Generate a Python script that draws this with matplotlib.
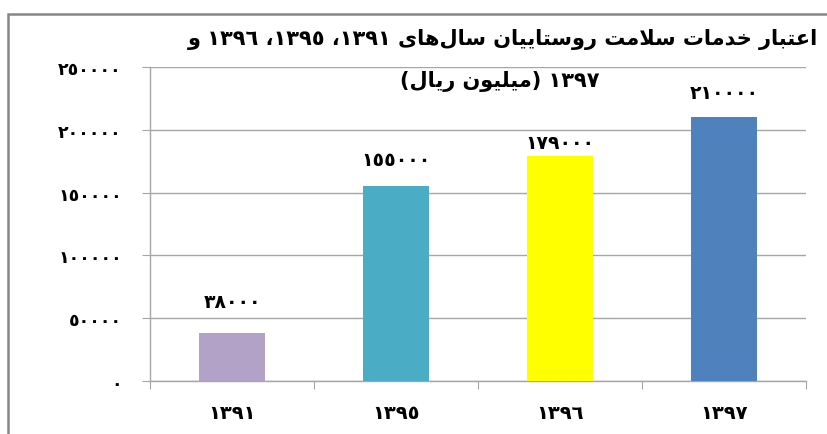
"""
Rural health services credit chart, 1391-1397 (million rials).
"""

import matplotlib

matplotlib.use("Agg")
import matplotlib.pyplot as plt
from matplotlib.patches import Rectangle

years = ["۱۳۹۱", "۱۳۹۵", "۱۳۹۶", "۱۳۹۷"]
values = [38000, 155000, 179000, 210000]
bar_colors = ["#B3A2C7", "#4BACC6", "#FFFF00", "#4F81BD"]
label_offsets = [23, 19, 10, 18]  # points above bar top, placed by hand in the source
y_ticks = [0, 50000, 100000, 150000, 200000, 250000]
title_line1 = "اعتبار خدمات سلامت روستاییان سال‌های ۱۳۹۱، ۱۳۹۵، ۱۳۹۶ و"
title_line2 = "۱۳۹۷ (میلیون ریال)"

# (isolated, final, initial, medial); right-joining letters have no initial/medial
FORMS = {
    "ا": ("\ufe8d", "\ufe8e", None, None),
    "ب": ("\ufe8f", "\ufe90", "\ufe91", "\ufe92"),
    "ت": ("\ufe95", "\ufe96", "\ufe97", "\ufe98"),
    "خ": ("\ufea5", "\ufea6", "\ufea7", "\ufea8"),
    "د": ("\ufea9", "\ufeaa", None, None),
    "ر": ("\ufead", "\ufeae", None, None),
    "س": ("\ufeb1", "\ufeb2", "\ufeb3", "\ufeb4"),
    "ع": ("\ufec9", "\ufeca", "\ufecb", "\ufecc"),
    "ل": ("\ufedd", "\ufede", "\ufedf", "\ufee0"),
    "م": ("\ufee1", "\ufee2", "\ufee3", "\ufee4"),
    "ن": ("\ufee5", "\ufee6", "\ufee7", "\ufee8"),
    "ه": ("\ufee9", "\ufeea", "\ufeeb", "\ufeec"),
    "و": ("\ufeed", "\ufeee", None, None),
    "ی": ("\ufeef", "\ufef0", "\ufef3", "\ufef4"),
    "ﻻ": ("\ufefb", "\ufefc", None, None),
}
PERSIAN_DIGITS = "۰۱۲۳۴۵۶۷۸۹"
ARABIC_DIGITS = "٠١٢٣٤٥٦٧٨٩"
MIRROR = {"(": ")", ")": "("}


def shape(text: str) -> str:
    """Poor man's Arabic shaping + bidi so matplotlib draws Persian left to right."""
    text = text.replace("لا", "ﻻ")
    text = "".join(ARABIC_DIGITS[PERSIAN_DIGITS.index(c)] if c in PERSIAN_DIGITS else c for c in text)
    out = []
    for i, ch in enumerate(text):
        if ch not in FORMS:
            if ch != "\u200c":
                out.append(ch)
            continue
        prev = text[i - 1] if i > 0 else ""
        nxt = text[i + 1] if i + 1 < len(text) else ""
        before = prev in FORMS and FORMS[prev][2] is not None
        after = FORMS[ch][2] is not None and nxt in FORMS
        iso, fin, ini, med = FORMS[ch]
        if before and after:
            out.append(med)
        elif before:
            out.append(fin)
        elif after:
            out.append(ini)
        else:
            out.append(iso)
    # visual order: reverse, but keep digit runs left to right
    tokens = []
    for ch in out:
        if ch in ARABIC_DIGITS and tokens and tokens[-1][-1] in ARABIC_DIGITS:
            tokens[-1] += ch
        else:
            tokens.append(ch)
    return "".join(MIRROR.get(t, t) for t in reversed(tokens))


def arabic_number(value: int) -> str:
    return "".join(ARABIC_DIGITS[int(d)] for d in str(value))


plt.rcParams["font.family"] = ["DejaVu Sans"]

fig = plt.figure(figsize=(8.28, 4.35), dpi=100)
fig.patches.append(
    Rectangle((8 / 828, -0.1), 1.2, (435 - 15) / 435 + 0.1, transform=fig.transFigure,
              fill=False, edgecolor="#868686", linewidth=1.8)
)
ax = fig.add_axes([150 / 828, 53 / 435, 656 / 828, 314 / 435])

positions = range(len(years))
bars = ax.bar(positions, values, width=0.4, color=bar_colors, zorder=3)
for bar, value, offset in zip(bars, values, label_offsets):
    ax.annotate(
        arabic_number(value),
        (bar.get_x() + bar.get_width() / 2, bar.get_height()),
        xytext=(0, offset),
        textcoords="offset points",
        ha="center",
        va="center",
        fontsize=13.5,
        fontweight="bold",
    )

ax.set_xlim(-0.5, len(years) - 0.5)
ax.set_ylim(0, 250000)
ax.set_yticks(y_ticks)
ax.set_yticklabels([arabic_number(t) for t in y_ticks], fontsize=12.5, fontweight="bold")
ax.set_xticks([p - 0.5 for p in range(len(years) + 1)])
ax.set_xticklabels([])
ax.set_xticks(list(positions), minor=True)
ax.set_xticklabels([shape(y) for y in years], minor=True, fontsize=14, fontweight="bold")
ax.tick_params(axis="x", which="major", length=5.5, color="#A6A6A6")
ax.tick_params(axis="x", which="minor", length=0, pad=16)
ax.tick_params(axis="y", length=5.8, color="#A6A6A6", pad=14.4)
ax.yaxis.grid(True, color="#A6A6A6", linewidth=1.0, zorder=0)
for side in ["top", "right"]:
    ax.spines[side].set_visible(False)
for side in ["left", "bottom"]:
    ax.spines[side].set_color("#A6A6A6")
    ax.spines[side].set_linewidth(1.0)

fig.text(503 / 828, 1 - 40 / 435, shape(title_line1), ha="center", va="center", fontsize=15, fontweight="bold")
fig.text(500 / 828, 1 - 82 / 435, shape(title_line2), ha="center", va="center", fontsize=15, fontweight="bold")

fig.savefig("out.png", dpi=100)
